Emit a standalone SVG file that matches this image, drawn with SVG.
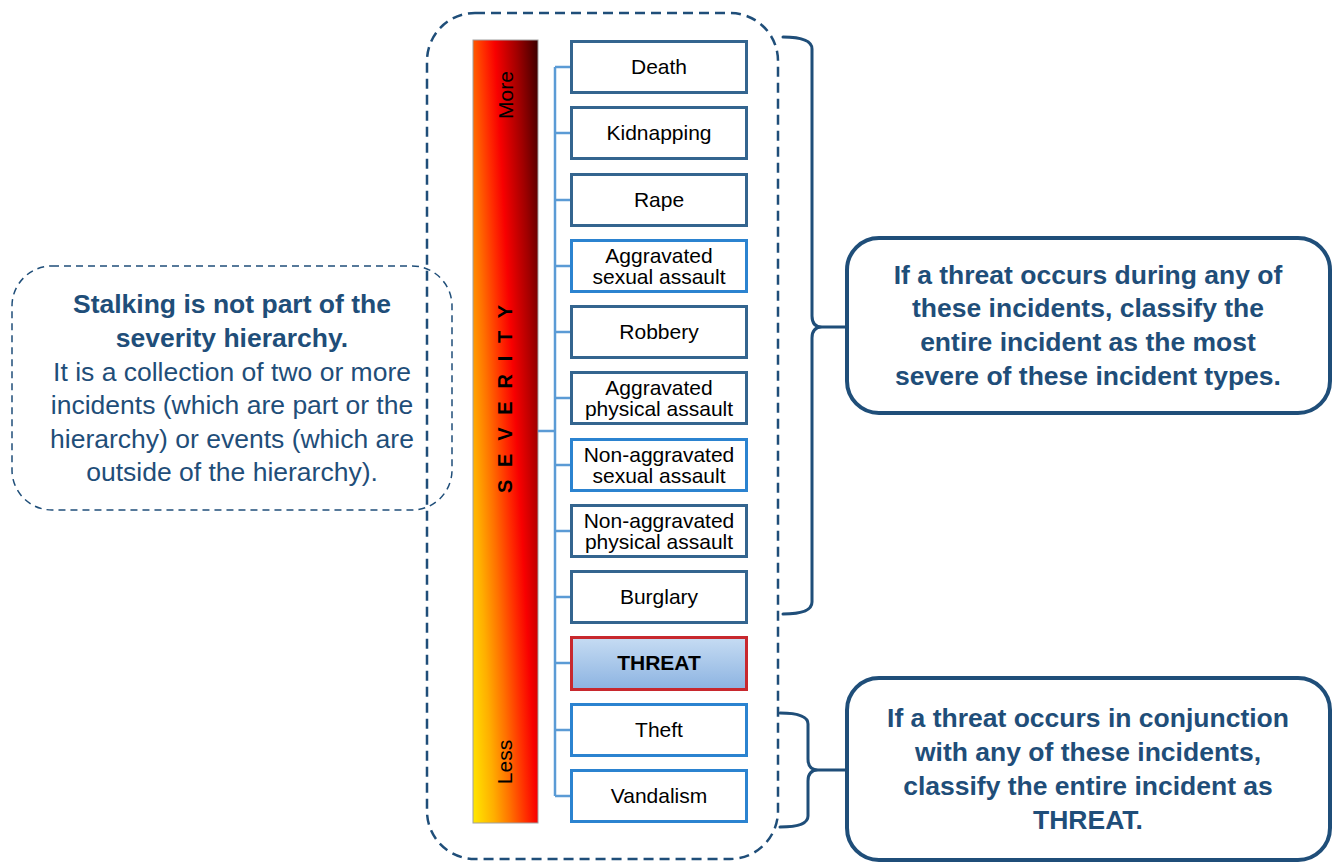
<svg xmlns="http://www.w3.org/2000/svg" width="1333" height="863" viewBox="0 0 1333 863">
<defs>
<linearGradient id="sev" x1="0" y1="1" x2="1.1538" y2="0.2308">
<stop offset="0" stop-color="#ffea00"/>
<stop offset="0.2" stop-color="#ffae00"/>
<stop offset="0.35" stop-color="#ff7000"/>
<stop offset="0.5" stop-color="#ff2a00"/>
<stop offset="0.6" stop-color="#f80000"/>
<stop offset="0.8" stop-color="#a00000"/>
<stop offset="1" stop-color="#3a0000"/>
</linearGradient>
<linearGradient id="threatFill" x1="0" y1="0" x2="0" y2="1">
<stop offset="0" stop-color="#c6dcf3"/>
<stop offset="1" stop-color="#8cb3e1"/>
</linearGradient>
<style>
.box{fill:#ffffff;stroke-width:3}
.dark{stroke:#34658f}
.bright{stroke:#2b83d0}
.bt{font-family:"Liberation Sans",Arial,sans-serif;font-size:21px;fill:#000;text-anchor:middle}
.ct{font-family:"Liberation Sans",Arial,sans-serif;font-size:26.5px;fill:#1f4e79;text-anchor:middle;font-weight:bold}
.lt{font-family:"Liberation Sans",Arial,sans-serif;font-size:26.5px;fill:#1f4e79;text-anchor:middle}
.conn{stroke:#5b9bd5;stroke-width:2.5;fill:none}
.brace{stroke:#1f4e79;stroke-width:3;fill:none;stroke-linecap:round}
.callout{fill:#ffffff;stroke:#1f4e79;stroke-width:4}
</style>
</defs>

<g id="outer-frame">
<rect x="427" y="13" width="351" height="846" rx="48" ry="48" fill="none" stroke="#1f4e79" stroke-width="2.5" stroke-dasharray="10 6"/>
</g>

<g id="stalking-note">
<rect x="12" y="266" width="440" height="244" rx="40" ry="40" fill="none" stroke="#1f4e79" stroke-width="1.5" stroke-dasharray="7 5"/>
<text class="lt" font-weight="bold" x="232" y="313">Stalking is not part of the</text>
<text class="lt" font-weight="bold" x="232" y="347">severity hierarchy.</text>
<text class="lt" x="232" y="381">It is a collection of two or more</text>
<text class="lt" x="232" y="414">incidents (which are part or the</text>
<text class="lt" x="232" y="448">hierarchy) or events (which are</text>
<text class="lt" x="232" y="481">outside of the hierarchy).</text>
</g>

<g id="severity-bar">
<rect x="473" y="40" width="65" height="783" fill="url(#sev)" stroke="#a0a0a0" stroke-width="1"/>
<text class="bt" font-size="20" transform="translate(513,95) rotate(-90)">More</text>
<text class="bt" font-size="20" transform="translate(512,762) rotate(-90)">Less</text>
<text font-family="'Liberation Sans',Arial,sans-serif" font-size="20" font-weight="bold" fill="#000" transform="translate(512,493) rotate(-90)" textLength="188" lengthAdjust="spacing">S E V E R I T Y</text>
</g>

<g id="connectors">
<path class="conn" d="M538 431H555M555 67V796M555 67H570M555 133H570M555 200H570M555 266H570M555 332H570M555 398H570M555 465H570M555 531H570M555 597H570M555 663H570M555 730H570M555 796H570"/>
<path class="brace" d="M783 37Q812 37 812 49L812 316Q812 327 822 327Q812 327 812 338L812 602Q812 614 783 614M822 327H845"/>
<path class="brace" d="M780 713Q808 713 808 724L808 759Q808 770 818 770Q808 770 808 781L808 816Q808 827 780 827M818 770H846"/>
</g>

<g id="n-death"><rect class="box dark" x="571.5" y="41.5" width="175" height="51"/><text class="bt" x="659" y="74">Death</text></g>
<g id="n-kidnapping"><rect class="box dark" x="571.5" y="107.5" width="175" height="51"/><text class="bt" x="659" y="140">Kidnapping</text></g>
<g id="n-rape"><rect class="box dark" x="571.5" y="174.5" width="175" height="51"/><text class="bt" x="659" y="207">Rape</text></g>
<g id="n-agg-sexual"><rect class="box bright" x="571.5" y="240.5" width="175" height="51"/><text class="bt" x="659" y="263">Aggravated</text><text class="bt" x="659" y="284">sexual assault</text></g>
<g id="n-robbery"><rect class="box dark" x="571.5" y="306.5" width="175" height="51"/><text class="bt" x="659" y="339">Robbery</text></g>
<g id="n-agg-physical"><rect class="box dark" x="571.5" y="372.5" width="175" height="51"/><text class="bt" x="659" y="395">Aggravated</text><text class="bt" x="659" y="416">physical assault</text></g>
<g id="n-nonagg-sexual"><rect class="box bright" x="571.5" y="439.5" width="175" height="51"/><text class="bt" x="659" y="462">Non-aggravated</text><text class="bt" x="659" y="483">sexual assault</text></g>
<g id="n-nonagg-physical"><rect class="box dark" x="571.5" y="505.5" width="175" height="51"/><text class="bt" x="659" y="528">Non-aggravated</text><text class="bt" x="659" y="549">physical assault</text></g>
<g id="n-burglary"><rect class="box dark" x="571.5" y="571.5" width="175" height="51"/><text class="bt" x="659" y="604">Burglary</text></g>
<g id="n-threat"><rect x="571.5" y="637.5" width="175" height="52" fill="url(#threatFill)" stroke="#c8282e" stroke-width="3"/><text class="bt" font-weight="bold" x="659" y="670">THREAT</text></g>
<g id="n-theft"><rect class="box bright" x="571.5" y="704.5" width="175" height="51"/><text class="bt" x="659" y="737">Theft</text></g>
<g id="n-vandalism"><rect class="box bright" x="571.5" y="770.5" width="175" height="51"/><text class="bt" x="659" y="803">Vandalism</text></g>

<g id="callout-severe">
<rect class="callout" x="847" y="238" width="483" height="175" rx="32" ry="32"/>
<text class="ct" x="1088" y="284">If a threat occurs during any of</text>
<text class="ct" x="1088" y="317">these incidents, classify the</text>
<text class="ct" x="1088" y="351">entire incident as the most</text>
<text class="ct" x="1088" y="385">severe of these incident types.</text>
</g>

<g id="callout-threat">
<rect class="callout" x="847" y="678" width="483" height="182" rx="32" ry="32"/>
<text class="ct" x="1088" y="727">If a threat occurs in conjunction</text>
<text class="ct" x="1088" y="761">with any of these incidents,</text>
<text class="ct" x="1088" y="795">classify the entire incident as</text>
<text class="ct" x="1088" y="829">THREAT.</text>
</g>
</svg>
